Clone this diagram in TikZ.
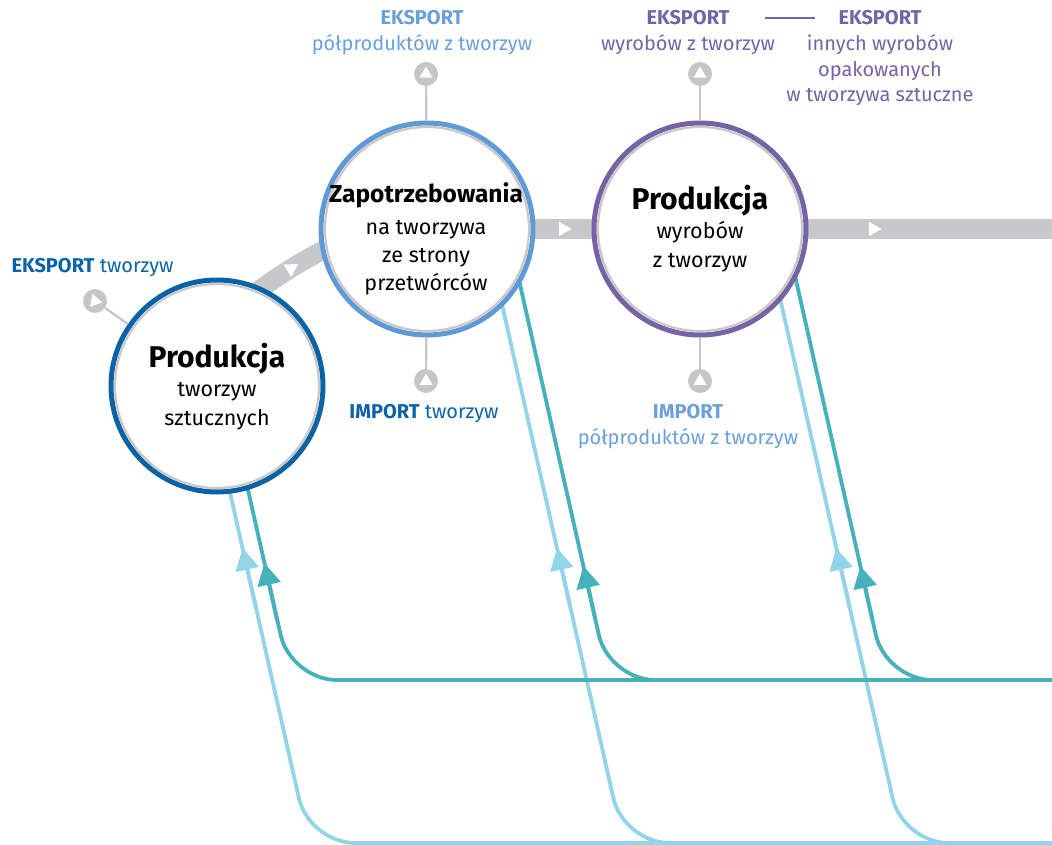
\documentclass[tikz,border=0pt]{standalone}
\usepackage{fontspec}
\setmainfont{Fira Sans}
\usetikzlibrary{arrows.meta,shapes.geometric}
\definecolor{dblue}{HTML}{0B63A5}
\definecolor{mblue}{HTML}{5F9AD6}
\definecolor{tblue}{HTML}{6A9FD8}
\definecolor{purp}{HTML}{7563A5}
\definecolor{tealc}{HTML}{45B1B9}
\definecolor{cyanc}{HTML}{93D5E8}
\definecolor{bandc}{HTML}{C7C8CA}
\definecolor{markc}{HTML}{C6C6C6}
\definecolor{ringg}{HTML}{C8C8C8}
\tikzset{
  ring/.style={circle, draw=#1, line width=5pt, fill=white, minimum size=212pt, inner sep=0pt},
  marker/.style={circle, fill=markc, minimum size=24pt, inner sep=0pt},
  tri/.style={regular polygon, regular polygon sides=3, fill=white, inner sep=0pt, minimum size=#1},
  stem/.style={markc, line width=2.2pt},
  band/.style={bandc, line width=19pt},
  tline/.style={tealc, line width=3.8pt, rounded corners=46pt},
  cline/.style={cyanc, line width=3.8pt, rounded corners=46pt},
  tip/.style={-{Triangle[width=23pt,length=22pt]}},
  head/.style={anchor=base, font=\fontsize{30}{33}\selectfont\bfseries},
  zhead/.style={anchor=base, font=\fontsize{24.5}{27}\selectfont\bfseries},
  body/.style={anchor=base, font=\fontsize{21.5}{24}\selectfont},
  lab/.style={anchor=base, font=\fontsize{20}{23}\selectfont},
}
\begin{document}
\begin{tikzpicture}[x=1pt,y=-1pt]
\useasboundingbox (0,0) rectangle (1052,845);

% ---------- coordinates for flow lines ----------
\coordinate (l1s) at (206,386);  \coordinate (l1c) at (309,843);
\coordinate (l1a) at (256,608); \coordinate (l1b) at (242.5,548);
\coordinate (l2s) at (485,229);  \coordinate (l2c) at (623.5,843);
\coordinate (l2a) at (570.5,608); \coordinate (l2b) at (557,548);
\coordinate (l3s) at (764.5,229); \coordinate (l3c) at (902.7,843);
\coordinate (l3a) at (849.8,608);  \coordinate (l3b) at (836.3,548);
\coordinate (ce) at (1052,843);

\coordinate (t1s) at (224.6,386); \coordinate (t1c) at (290.8,680);
\coordinate (t1a) at (277,620);   \coordinate (t1b) at (264.4,563);
\coordinate (t2s) at (507.5,229); \coordinate (t2c) at (609,680);
\coordinate (t2a) at (595.5,620); \coordinate (t2b) at (583.4,566);
\coordinate (t3s) at (784.5,229); \coordinate (t3c) at (886,680);
\coordinate (t3a) at (872.4,620);   \coordinate (t3b) at (860.4,566);
\coordinate (te) at (1052,680);

\coordinate (be) at (1052,229);
\coordinate (bs) at (250,297);
\coordinate (bm) at (352,236);

% ---------- circles (positions) ----------
\path (217,386) coordinate (p1) (427,229) coordinate (p2) (700,229) coordinate (p3);

% ---------- grey band ----------
\draw[band] (bs) .. controls (272,280) and (302,259) .. (bm);
\draw[band] (p2) -- (be);
\node[tri=17pt, shape border rotate=-58] (bt0) at (291,268.5) {};
\node[tri=17pt, shape border rotate=-90] (bt1) at (563,229) {};
\node[tri=17pt, shape border rotate=-90] (bt2) at (873,229) {};

% ---------- flow lines ----------
\draw[cline] (l1s) -- (l1c) -- (ce);
\draw[cline] (l2s) -- (l2c) -- (ce);
\draw[cline] (l3s) -- (l3c) -- (ce);
\draw[tline] (t1s) -- (t1c) -- (te);
\draw[tline] (t2s) -- (t2c) -- (te);
\draw[tline] (t3s) -- (t3c) -- (te);
\draw[cyanc, line width=3.8pt, tip] (l1a) -- (l1b);
\draw[cyanc, line width=3.8pt, tip] (l2a) -- (l2b);
\draw[cyanc, line width=3.8pt, tip] (l3a) -- (l3b);
\draw[tealc, line width=3.8pt, tip] (t1a) -- (t1b);
\draw[tealc, line width=3.8pt, tip] (t2a) -- (t2b);
\draw[tealc, line width=3.8pt, tip] (t3a) -- (t3b);

% ---------- markers ----------
\node[marker] (m1) at (95,301) {};
\node[marker] (m2t) at (426,74) {};
\node[marker] (m2b) at (426,381) {};
\node[marker] (m3t) at (700,74) {};
\node[marker] (m3b) at (700,381) {};
\node[tri=15pt, shape border rotate=-100] (mt1) at (m1) {};
\node[tri=15pt] (mt2) at (m2t) {};
\node[tri=15pt] (mt3) at (m2b) {};
\node[tri=15pt] (mt4) at (m3t) {};
\node[tri=15pt] (mt5) at (m3b) {};

% ---------- main circles ----------
\node[ring=dblue] (c1) at (p1) {};
\node[ring=mblue] (c2) at (p2) {};
\node[ring=purp] (c3) at (p3) {};
\draw[ringg, line width=2.2pt] (c1.center) circle[radius=102pt];
\draw[ringg, line width=2.2pt] (c2.center) circle[radius=102pt];
\draw[ringg, line width=2.2pt] (c3.center) circle[radius=102pt];

% stems
\draw[stem] (m1) -- (c1);
\draw[stem] (m2t) -- (c2);
\draw[stem] (m2b) -- (c2);
\draw[stem] (m3t) -- (c3);
\draw[stem] (m3b) -- (c3);

% ---------- circle texts ----------
\node[head] (c1h) at (217,367) {Produkcja};
\node[body] (c1a) at (217,396) {tworzyw};
\node[body] (c1b) at (217,425) {sztucznych};

\node[zhead] (c2h) at (426,203) {Zapotrzebowania};
\node[body] (c2a) at (426,235) {na tworzywa};
\node[body] (c2b) at (426,262) {ze strony};
\node[body] (c2c) at (426,290) {przetwórców};

\node[head] (c3h) at (700,210) {Produkcja};
\node[body] (c3a) at (700,239) {wyrobów};
\node[body] (c3b) at (700,267) {z tworzyw};

% ---------- labels ----------
\node[lab, anchor=base west, text=dblue] (le1) at (8,272) {\textbf{EKSPORT} tworzyw};
\node[lab, text=tblue] (le2a) at (422,25) {\textbf{EKSPORT}};
\node[lab, text=tblue] (le2b) at (422,51) {półproduktów z tworzyw};
\node[lab, text=purp] (le3a) at (688,25) {\textbf{EKSPORT}};
\node[lab, text=purp] (le3b) at (688,51) {wyrobów z tworzyw};
\node[lab, text=purp] (le4a) at (880,25) {\textbf{EKSPORT}};
\node[lab, text=purp] (le4b) at (880,51) {innych wyrobów};
\node[lab, text=purp] (le4c) at (880,77) {opakowanych};
\node[lab, text=purp] (le4d) at (880,102) {w tworzywa sztuczne};
\coordinate (pl1) at (765,18);
\coordinate (pl2) at (815,18);
\draw[purp, line width=2.5pt] (pl1) -- (pl2);

\node[lab, text=dblue] (li1) at (424,418) {\textbf{IMPORT} tworzyw};
\node[lab, text=tblue] (li2a) at (688,418) {\textbf{IMPORT}};
\node[lab, text=tblue] (li2b) at (688,444) {półproduktów z tworzyw};
\end{tikzpicture}
\end{document}
